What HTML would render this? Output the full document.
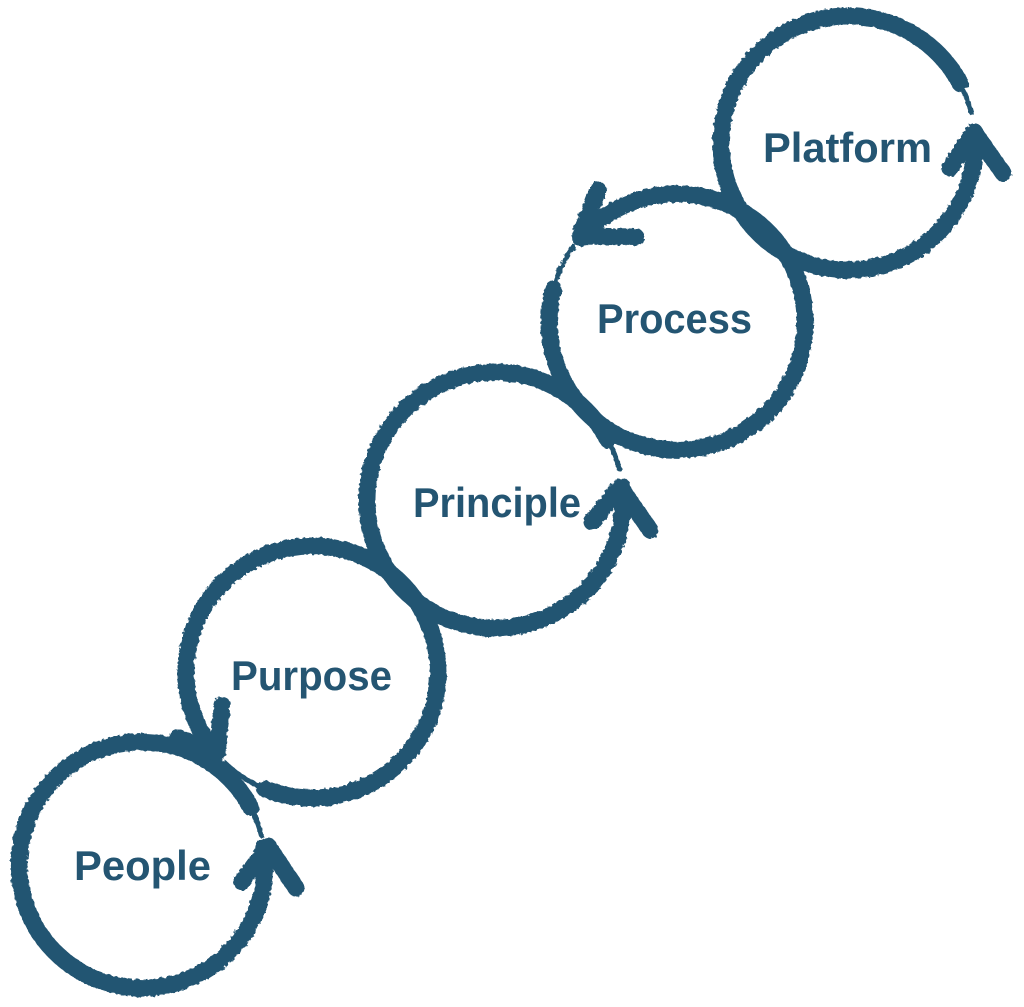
<!DOCTYPE html>
<html><head><meta charset="utf-8"><style>
html,body{margin:0;padding:0;background:#fff;}
svg{display:block}
text{font-family:"Liberation Sans",sans-serif;font-weight:bold;fill:#245572;font-size:42px}
</style></head><body>
<svg width="1024" height="1007" viewBox="0 0 1024 1007" xmlns="http://www.w3.org/2000/svg">
<defs>
<filter id="r" x="-5%" y="-5%" width="110%" height="110%">
<feTurbulence type="fractalNoise" baseFrequency="0.25" numOctaves="2" seed="3"/>
<feDisplacementMap in="SourceGraphic" scale="4"/>
</filter>
</defs>
<g fill="none" stroke="#245572" stroke-linecap="round" stroke-linejoin="round" filter="url(#r)">
<g stroke-width="17">
<path d="M250.6 807.3 A123 123 0 1 0 263.8 847.9"/>
<polyline points="242,882 268,846 296,888"/>
<path d="M264.8 788.8 A126 126 0 1 0 215.5 753"/>
<polyline points="222,705 217,753 178,738"/>
<path d="M608 440 A128 128 0 1 0 622.3 486.6"/>
<polyline points="592,522 620,487 650,530"/>
<path d="M553.4 288.9 A128 128 0 1 0 580.4 238"/>
<polyline points="598,190 580,236 636,237"/>
<path d="M960.1 83.4 A127 127 0 1 0 974.5 131.9"/>
<polyline points="950,168 974,132 1003,173"/>
</g>
<g stroke-width="5">
<path d="M261.3 835.2 A123 123 0 0 0 250.6 807.3"/>
<path d="M224.5 762.6 A126 126 0 0 0 264.8 788.8"/>
<path d="M619.2 469 A128 128 0 0 0 608 440"/>
<path d="M573.4 246.7 A128 128 0 0 0 553.4 288.9"/>
<path d="M971.2 112.3 A127 127 0 0 0 960.1 83.4"/>
</g>
</g>
<text x="763" y="162" textLength="169" lengthAdjust="spacingAndGlyphs">Platform</text>
<text x="597" y="333" textLength="155" lengthAdjust="spacingAndGlyphs">Process</text>
<text x="413" y="517" textLength="168" lengthAdjust="spacingAndGlyphs">Principle</text>
<text x="231" y="690" textLength="161" lengthAdjust="spacingAndGlyphs">Purpose</text>
<text x="74" y="880" textLength="137" lengthAdjust="spacingAndGlyphs">People</text>
</svg>
</body></html>
